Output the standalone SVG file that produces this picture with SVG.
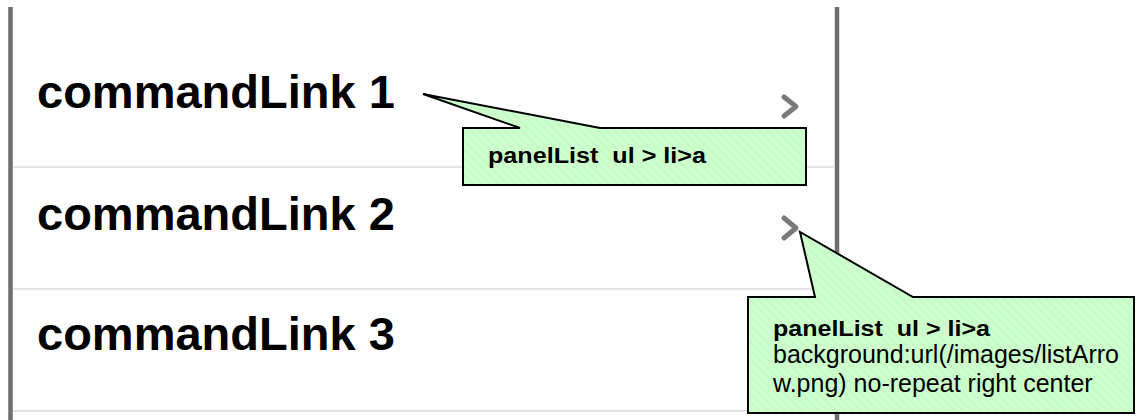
<svg xmlns="http://www.w3.org/2000/svg" width="1137" height="420" viewBox="0 0 1137 420">
<style>
.link{font-family:"Liberation Sans",Arial,sans-serif;font-weight:bold;font-size:47px;fill:#000}
.sep{stroke:#e4e4e4;stroke-width:2}
.frame{stroke:#6e6e6e;stroke-width:4.5}
.chev{fill:none;stroke:#7a7a7a;stroke-width:5;stroke-linecap:round;stroke-linejoin:round}
.callout{fill:url(#hatch);stroke:#000;stroke-width:2;stroke-linejoin:miter}
.cb{font-family:"Liberation Sans",Arial,sans-serif;font-weight:bold;font-size:22px;fill:#000;white-space:pre}
.cr{font-family:"Liberation Sans",Arial,sans-serif;font-size:25px;fill:#000}
</style>
<defs>
<pattern id="hatch" patternUnits="userSpaceOnUse" width="6" height="6" patternTransform="rotate(-45)">
<rect width="6" height="6" fill="#ccffcc"/>
<line x1="0" y1="0" x2="0" y2="6" stroke="#c2f2c2" stroke-width="1.5"/>
</pattern>
</defs>
<rect width="1137" height="420" fill="#fff"/>
<g id="frame">
<line class="frame" x1="10.5" y1="7" x2="10.5" y2="420"/>
<line class="frame" x1="837" y1="7" x2="837" y2="420"/>
<line class="sep" x1="13" y1="167" x2="835" y2="167"/>
<line class="sep" x1="13" y1="289" x2="835" y2="289"/>
<line class="sep" x1="13" y1="411" x2="835" y2="411"/>
</g>
<g id="item1">
<text class="link" x="37" y="108">commandLink 1</text>
<polyline class="chev" points="784,97 796,106.5 784,116"/>
</g>
<g id="item2">
<text class="link" x="37" y="230">commandLink 2</text>
<polyline class="chev" points="784,218 796,228 784,238"/>
</g>
<g id="item3">
<text class="link" x="37" y="350">commandLink 3</text>
</g>
<g id="connectors">
</g>
<g id="callout1">
<path class="callout" d="M463,128 L520,128 L423,94 L600,128 L806,128 L806,185 L463,185 Z"/>
<text class="cb" x="488" y="163" xml:space="preserve" textLength="218" lengthAdjust="spacingAndGlyphs">panelList  ul &gt; li&gt;a</text>
</g>
<g id="callout2">
<path class="callout" d="M748,297 L815,297 L800,232 L913,297 L1134,297 L1134,413 L748,413 Z"/>
<text class="cb" x="773" y="336" xml:space="preserve" textLength="217" lengthAdjust="spacingAndGlyphs">panelList  ul &gt; li&gt;a</text>
<text class="cr" x="773" y="363">background:url(/images/listArro</text>
<text class="cr" x="773" y="392">w.png) no-repeat right center</text>
</g>
</svg>
